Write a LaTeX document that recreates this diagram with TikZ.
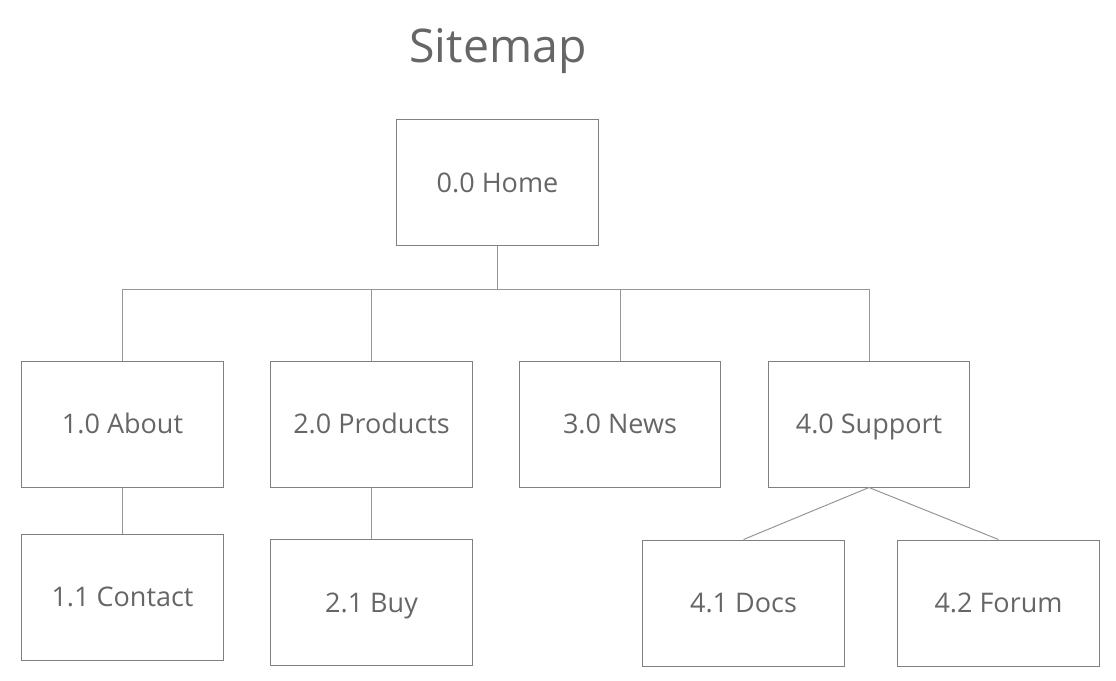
\documentclass[tikz,border=0pt]{standalone}
\usepackage{fontspec}
\setmainfont{Open Sans}
\definecolor{boxgray}{RGB}{128,128,128}
\definecolor{linegray}{RGB}{150,150,150}
\definecolor{textgray}{RGB}{102,102,102}
\tikzset{
  page/.style={draw, rectangle, boxgray, line width=0.7pt, text=textgray,
    minimum width=5.025cm, minimum height=3.15cm, inner sep=0pt,
    text height=1.4em, text depth=0.04em,
    font=\fontsize{19.2}{21}\selectfont},
  link/.style={linegray, line width=0.7pt}
}
\begin{document}
\begin{tikzpicture}[x=0.025cm, y=-0.025cm]
\useasboundingbox (0,0) rectangle (1116,680);
\node[text=textgray, anchor=base, font=\fontsize{33}{36}\selectfont] (title) at (498,62) {Sitemap};
\node[page] (home) at (497.5,182.5) {0.0 Home};
\foreach \n/\x/\lab in {about/122.5/1.0 About, products/371.5/2.0 Products, news/620/3.0 News, support/869/4.0 Support}
  \node[page] (\n) at (\x,424) {\lab};
\node[page] (contact) at (122.5,597) {1.1 Contact};
\node[page] (buy) at (371.5,602.5) {2.1 Buy};
\node[page] (docs) at (743.5,603) {4.1 Docs};
\node[page] (forum) at (998.5,603) {4.2 Forum};
\coordinate (bus) at (497.5,289);
\draw[link] (home.south) -- (bus);
\draw[link] (about.north |- bus) -- (support.north |- bus);
\foreach \n in {about,products,news,support}
  \draw[link] (\n.north) -- (\n.north |- bus);
\draw[link] (about.south) -- (contact.north);
\draw[link] (products.south) -- (buy.north);
\draw[link] (support.south) -- (docs.north);
\draw[link] (support.south) -- (forum.north);
\end{tikzpicture}
\end{document}
